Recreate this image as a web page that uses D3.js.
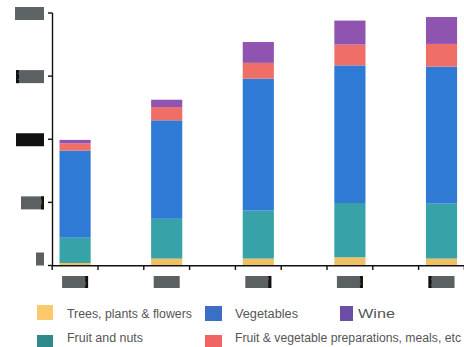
<!DOCTYPE html>
<html>
<head>
<meta charset="utf-8">
<script src="https://cdn.jsdelivr.net/npm/d3@7"></script>
<style>
  html, body { margin: 0; padding: 0; background: #fff; }
  svg { display: block; }
</style>
</head>
<body>
<svg id="chart" width="464" height="347"></svg>
<script>
// Years on the x axis
const years = ["2015", "2016", "2017", "2018", "2019"];

// Series, stacked bottom to top
const seriesNames = [
  "Trees, plants & flowers",
  "Fruit and nuts",
  "Vegetables",
  "Fruit & vegetable preparations, meals, etc",
  "Wine"
];
const trees      = [20, 55, 55, 65, 55];
const fruitNuts  = [200, 315, 380, 430, 435];
const vegetables = [690, 780, 1045, 1090, 1085];
const prepared   = [58, 105, 125, 165, 180];
const wine       = [27, 58, 165, 190, 213];

// Value axis ticks
const yTicks = [0, 500, 1000, 1500, 2000];
const yTickLabels = ["0", "500", "1,000", "1,500", "2,000"];

const barColors    = ["#efc163", "#37a2a8", "#2f7ad4", "#f06e68", "#8f54b0"];
const legendColors = ["#fbc86c", "#3b6fc6", "#6b4fa6", "#2f8a8c", "#f06464"];

const seriesValues = [trees, fruitNuts, vegetables, prepared, wine];
const rows = years.map((y, i) => {
  const r = { year: y };
  seriesNames.forEach((n, k) => { r[n] = seriesValues[k][i]; });
  return r;
});

const svg = d3.select("#chart");

const x = d3.scaleBand()
  .domain(years)
  .range([52, 464.6])
  .paddingInner(0.66)
  .paddingOuter(0.082);

const y = d3.scaleLinear().domain([0, 2000]).range([265.5, 13]);

const stacked = d3.stack().keys(seriesNames)(rows);

// Stacked bars
svg.append("g")
  .selectAll("g")
  .data(stacked)
  .join("g")
  .attr("fill", (d, i) => barColors[i])
  .selectAll("rect")
  .data(d => d)
  .join("rect")
  .attr("x", d => x(d.data.year))
  .attr("width", x.bandwidth())
  .attr("y", d => y(d[1]))
  .attr("height", d => y(d[0]) - y(d[1]));

// Y axis line and ticks
const yAxis = svg.append("g");
yAxis.append("line")
  .attr("x1", 52.5).attr("x2", 52.5)
  .attr("y1", y(2000)).attr("y2", y(0))
  .attr("stroke", "#111").attr("stroke-width", 1.4);
yAxis.selectAll("line.tick")
  .data(yTicks)
  .join("line")
  .attr("class", "tick")
  .attr("x1", 48).attr("x2", 52.5)
  .attr("y1", d => y(d)).attr("y2", d => y(d))
  .attr("stroke", "#111").attr("stroke-width", 1.4);

// Y tick labels, set in solid label chips
const yChip = [
  { w: 8,  fill: "#5b6163", edge: null },
  { w: 23, fill: "#5b6163", edge: "right" },
  { w: 28, fill: "#111111", edge: null },
  { w: 28, fill: "#5b6163", edge: "left" },
  { w: 29, fill: "#5e6466", edge: null }
];
const yLab = yAxis.selectAll("g.ylab")
  .data(yTicks)
  .join("g")
  .attr("class", "ylab")
  .attr("transform", d => `translate(44, ${y(d)})`);
yLab.append("rect")
  .attr("x", (d, i) => -yChip[i].w)
  .attr("y", (d, i) => i === 0 ? -13 : -6)
  .attr("width", (d, i) => yChip[i].w)
  .attr("height", 13)
  .attr("fill", (d, i) => yChip[i].fill);
yLab.filter((d, i) => yChip[i].edge)
  .append("rect")
  .attr("x", d => yChip[yTicks.indexOf(d)].edge === "right" ? -3 : -yChip[yTicks.indexOf(d)].w)
  .attr("y", -6).attr("width", 3).attr("height", 13)
  .attr("fill", "#111");
yLab.append("text")
  .attr("x", -2)
  .attr("y", (d, i) => i === 0 ? -3 : 4)
  .attr("text-anchor", "end")
  .attr("font-family", "Liberation Sans, Arial, sans-serif")
  .attr("font-size", 10)
  .attr("fill", (d, i) => yChip[i].fill)
  .text((d, i) => yTickLabels[i]);

// X axis line and ticks (one on each side of every bar)
const step = x.step();
const xTickPos = [];
years.forEach(yr => {
  const c = x(yr) + x.bandwidth() / 2;
  xTickPos.push(c - step / 4, c + step / 4);
});
const xAxis = svg.append("g");
xAxis.append("line")
  .attr("x1", 52).attr("x2", 464)
  .attr("y1", 265.8).attr("y2", 265.8)
  .attr("stroke", "#111").attr("stroke-width", 1.4);
xAxis.selectAll("line.tick")
  .data(xTickPos)
  .join("line")
  .attr("class", "tick")
  .attr("x1", d => d).attr("x2", d => d)
  .attr("y1", 265.8).attr("y2", 270)
  .attr("stroke", "#111").attr("stroke-width", 1.4);

// X tick labels, set in solid label chips
const xEdge = ["right", null, "right", "right", "left"];
const xLab = xAxis.selectAll("g.xlab")
  .data(years)
  .join("g")
  .attr("class", "xlab")
  .attr("transform", d => `translate(${x(d) + x.bandwidth() / 2}, 282)`);
xLab.append("rect")
  .attr("x", -13).attr("y", -6)
  .attr("width", 26).attr("height", 12)
  .attr("fill", "#5b6163");
xLab.filter((d, i) => xEdge[years.indexOf(d)])
  .append("rect")
  .attr("x", d => xEdge[years.indexOf(d)] === "right" ? 10 : -13)
  .attr("y", -6).attr("width", 3).attr("height", 12)
  .attr("fill", "#111");
xLab.append("text")
  .attr("y", 4)
  .attr("text-anchor", "middle")
  .attr("font-family", "Liberation Sans, Arial, sans-serif")
  .attr("font-size", 10)
  .attr("fill", "#5b6163")
  .text(d => d);

// Legend
const legendItems = [
  { name: seriesNames[0], color: legendColors[0], sx: 37,  sy: 305, sw: 16, sh: 15, tx: 67,  ty: 318, tl: 125 },
  { name: seriesNames[2], color: legendColors[1], sx: 205, sy: 306, sw: 17, sh: 15, tx: 235, ty: 318, tl: 63 },
  { name: seriesNames[4], color: legendColors[2], sx: 340, sy: 306, sw: 13, sh: 15, tx: 358, ty: 318, tl: 37 },
  { name: seriesNames[1], color: legendColors[3], sx: 37,  sy: 335, sw: 16, sh: 12, tx: 67,  ty: 342, tl: 76 },
  { name: seriesNames[3], color: legendColors[4], sx: 205, sy: 335, sw: 17, sh: 12, tx: 235, ty: 342, tl: 226 }
];
const legend = svg.append("g")
  .selectAll("g")
  .data(legendItems)
  .join("g");
legend.append("rect")
  .attr("x", d => d.sx).attr("y", d => d.sy)
  .attr("width", d => d.sw).attr("height", d => d.sh)
  .attr("fill", d => d.color);
legend.append("text")
  .attr("x", d => d.tx).attr("y", d => d.ty)
  .attr("font-family", "Liberation Sans, Arial, sans-serif")
  .attr("font-size", 12)
  .attr("fill", "#555")
  .attr("textLength", d => d.tl)
  .attr("lengthAdjust", "spacingAndGlyphs")
  .text(d => d.name);
</script>
</body>
</html>
